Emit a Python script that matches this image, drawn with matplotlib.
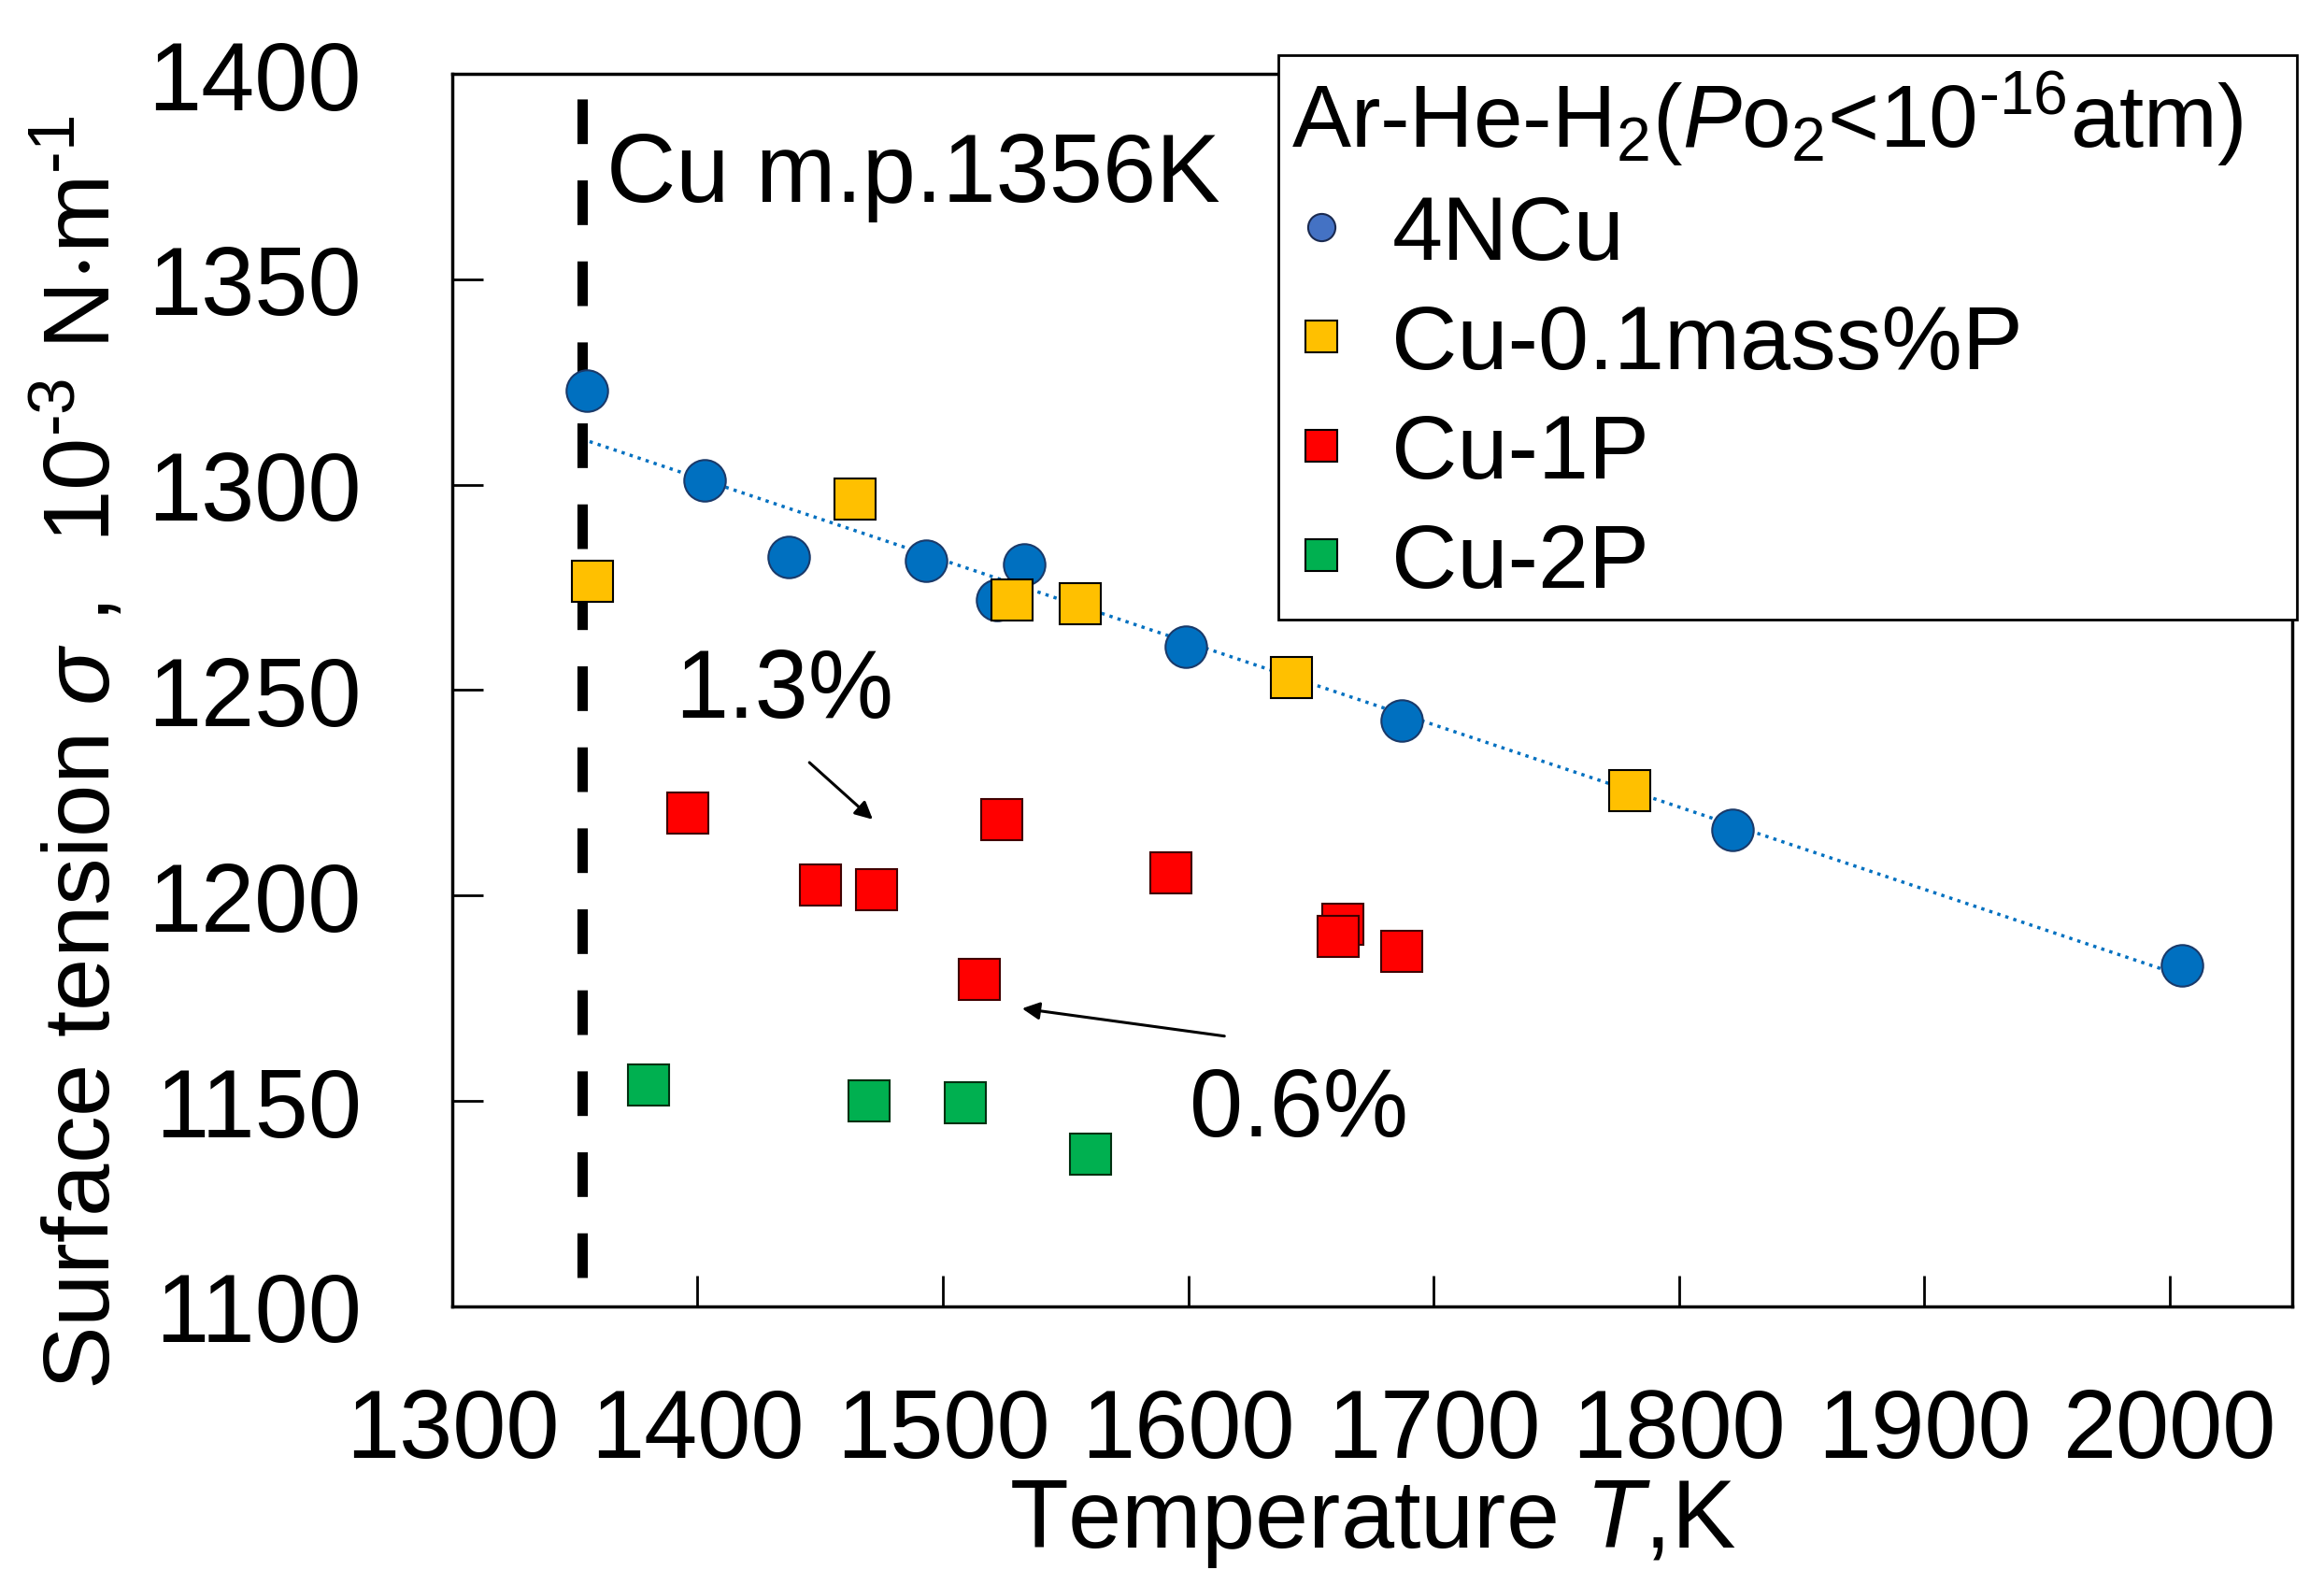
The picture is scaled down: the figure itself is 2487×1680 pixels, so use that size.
import matplotlib
matplotlib.use("Agg")
import matplotlib.pyplot as plt
from matplotlib.lines import Line2D

plt.rcParams['font.family'] = ['Liberation Sans', 'DejaVu Sans']
plt.rcParams['mathtext.fontset'] = 'custom'
plt.rcParams['mathtext.rm'] = 'Liberation Sans'
plt.rcParams['mathtext.it'] = 'Liberation Sans:italic'
plt.rcParams['mathtext.default'] = 'regular'

# 4NCu
cu_T = [1355, 1403, 1437, 1493, 1533, 1522, 1599, 1687, 1822, 2005]
cu_s = [1323, 1301, 1282.5, 1281.5, 1280.5, 1272, 1260.5, 1242.5, 1216, 1183]
# Cu-0.1mass%P
p01_T = [1357, 1464, 1528, 1556, 1642, 1780]
p01_s = [1276.5, 1296.5, 1272, 1271, 1253, 1225.5]
# Cu-1P
p1_T = [1396, 1450, 1473, 1524, 1515, 1593, 1663, 1661, 1687]
p1_s = [1220, 1202.5, 1201.5, 1218.5, 1179.5, 1205.5, 1193, 1190, 1186.5]
# Cu-2P
p2_T = [1380, 1470, 1509, 1560]
p2_s = [1154, 1150, 1149.5, 1137]
# linear fit of 4NCu (end points)
fit_T = [1356, 2005]
fit_s = [1310.5, 1180.5]

mp_line_T = 1353  # where the melting point line is drawn
x_ticks = [1300, 1400, 1500, 1600, 1700, 1800, 1900, 2000]
y_ticks = [1100, 1150, 1200, 1250, 1300, 1350, 1400]

fig = plt.figure(figsize=(24.87, 16.81), dpi=100)
ax = fig.add_axes([0.1946, 0.1678, 0.7917, 0.7846])

ax.plot([mp_line_T, mp_line_T], [1107, 1400], color='black', lw=8, dashes=(4.3, 3.5), zorder=2)
ax.plot(fit_T, fit_s, color='#0070C0', lw=2.5, ls=(0, (1, 1.6)), zorder=1)

ms = 32
ax.plot(cu_T, cu_s, 'o', ms=ms, mfc='#0070C0', mec='#1a3a6a', mew=1.5, zorder=3)
ax.plot(p01_T, p01_s, 's', ms=ms, mfc='#FFC000', mec='black', mew=1.5, zorder=4)
ax.plot(p1_T, p1_s, 's', ms=ms, mfc='#FF0000', mec='#400000', mew=1.5, zorder=4)
ax.plot(p2_T, p2_s, 's', ms=ms, mfc='#00B050', mec='#003010', mew=1.5, zorder=4)

fs = 74
ax.text(1363, 1369, 'Cu m.p.1356K', fontsize=fs, va='baseline', ha='left')
ax.text(1390.7, 1243.5, '1.3%', fontsize=fs, va='baseline', ha='left')
ax.text(1600.5, 1141.6, '0.6%', fontsize=fs, va='baseline', ha='left')
ax.annotate('', xy=(1472.2, 1218.1), xytext=(1444.8, 1232.8),
            arrowprops=dict(arrowstyle='-|>', color='black', lw=2.2, mutation_scale=28))
ax.annotate('', xy=(1531.2, 1172.6), xytext=(1615.8, 1165.7),
            arrowprops=dict(arrowstyle='-|>', color='black', lw=2.2, mutation_scale=28))

ax.set_xlim(1300, 2050)
ax.set_ylim(1100, 1400)
ax.set_xticks(x_ticks)
ax.set_yticks(y_ticks)
ax.tick_params(axis='both', direction='in', length=24, width=2, labelsize=fs)
ax.tick_params(axis='x', pad=62)
ax.tick_params(axis='y', pad=70)
for sp in ax.spines.values():
    sp.set_linewidth(2.5)

ax.set_xlabel(r'Temperature $\mathit{T}$,K', fontsize=fs, labelpad=0)
ax.set_ylabel(r'Surface tension $\mathit{σ}$ ,  10$^{\text{-}3}$ N$\cdot$m$^{\text{-}1}$', fontsize=73)
ax.yaxis.set_label_coords(-0.175, 0.45)

handles = [
    Line2D([], [], ls='none', marker='o', ms=21, mfc='#4472C4', mec='#1a2a50', mew=1.5),
    Line2D([], [], ls='none', marker='s', ms=25, mfc='#FFC000', mec='black', mew=1.5),
    Line2D([], [], ls='none', marker='s', ms=25, mfc='#FF0000', mec='black', mew=1.5),
    Line2D([], [], ls='none', marker='s', ms=25, mfc='#00B050', mec='black', mew=1.5),
]
labels = ['4NCu', 'Cu-0.1mass%P', 'Cu-1P', 'Cu-2P']
leg = fig.legend(handles, labels, loc='upper left',
                 bbox_to_anchor=(0.550, 0.6086, 0.4383, 0.3557), mode='expand',
                 title=r'Ar-He-H$_2$($\mathit{P}$o$_2$<10$^{\text{-}16}$atm)',
                 fontsize=70, title_fontsize=68, alignment='left',
                 frameon=True, fancybox=False, edgecolor='black', framealpha=1,
                 borderpad=0.15, handlelength=0.65, handletextpad=0.45,
                 labelspacing=0.28, borderaxespad=0)
leg.get_frame().set_linewidth(2)

fig.savefig('out.png', dpi=100)
